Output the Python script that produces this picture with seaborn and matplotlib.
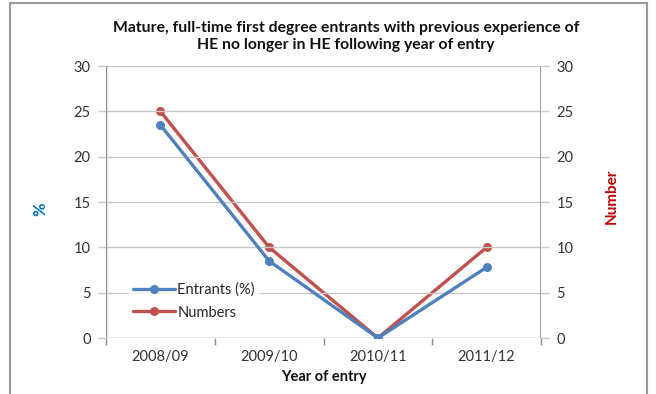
import matplotlib
matplotlib.use("Agg")
import matplotlib.pyplot as plt
import seaborn as sns
import pandas as pd
from matplotlib.patches import Rectangle

years = ["2008/09", "2009/10", "2010/11", "2011/12"]
entrants_pct = [23.5, 8.5, 0.0, 7.8]
numbers = [25, 10, 0, 10]
y_ticks = [0, 5, 10, 15, 20, 25, 30]

sns.set_theme(style="white")
plt.rcParams["font.family"] = ["Lato", "DejaVu Sans"]

blue = "#4F81BD"
red = "#C0504D"
grid = "#C8C8C8"
axis_grey = "#8C8C8C"

df = pd.DataFrame({"year": years, "pct": entrants_pct, "num": numbers})
df["x"] = range(len(years))
n = len(years)

fig = plt.figure(figsize=(6.56, 3.94), dpi=100)
ax = fig.add_axes([106 / 656, 56 / 394, 435 / 656, 272 / 394])
ax2 = ax.twinx()

sns.lineplot(data=df, x="x", y="pct", ax=ax, color=blue, marker="o",
             markersize=6.5, markeredgewidth=0, linewidth=2.4, label="Entrants (%)",
             legend=False)
sns.lineplot(data=df, x="x", y="num", ax=ax2, color=red, marker="o",
             markersize=6.5, markeredgewidth=0, linewidth=2.4, label="Numbers",
             legend=False)

for a in (ax, ax2):
    a.set_ylim(0, 30)
    a.set_yticks(y_ticks)
    for s in a.spines.values():
        s.set_visible(False)
    a.tick_params(axis="y", length=6, width=1, color=grid, pad=5,
                  labelsize=10.5, labelcolor="#333333")
    a.set_ylabel("")
ax.set_xlim(-0.5, n - 0.5)

ax.set_zorder(ax2.get_zorder() + 1)
ax.patch.set_visible(False)

# horizontal gridlines and the two vertical value axes
for t in y_ticks[1:]:
    ax.axhline(t, color=grid, lw=1, zorder=0)
ax.axhline(0, color=axis_grey, lw=1, zorder=0)
ax.axvline(-0.5, color=axis_grey, lw=1, zorder=0)
ax.axvline(n - 0.5, color=axis_grey, lw=1.2, zorder=0)

# category labels centred, tick marks at category boundaries
ax.set_xticks(range(n))
ax.set_xticklabels(years)
ax.set_xticks([i - 0.5 for i in range(n + 1)], minor=True)
ax.tick_params(axis="x", which="major", length=0, labelsize=10.5,
               labelcolor="#333333", pad=9)
ax.tick_params(axis="x", which="minor", length=5, width=1, color=axis_grey,
               bottom=True)
ax2.tick_params(axis="x", which="both", length=0, labelbottom=False)

ax.set_xlabel("Year of entry", fontsize=10.5, fontweight="bold", color="#111111",
              labelpad=4)
fig.text(40 / 656, 1 - 209 / 394, "%", rotation=90, color="#0070C0",
         fontsize=12, fontweight="bold", ha="center", va="center")
fig.text(612 / 656, 1 - 196 / 394, "Number", rotation=90, color="#C00000",
         fontsize=11, fontweight="bold", ha="center", va="center")

fig.suptitle("Mature, full-time first degree entrants with previous experience of\n"
             "HE no longer in HE following year of entry",
             x=346 / 656, y=1 - 21 / 394, va="top", fontsize=11.3, fontweight="bold",
             color="#111111", linespacing=1.3)

h1, l1 = ax.get_legend_handles_labels()
h2, l2 = ax2.get_legend_handles_labels()
leg = ax.legend(h1 + h2, l1 + l2, loc="lower left", bbox_to_anchor=(0.035, 0.025),
                frameon=True, fontsize=10.5, handlelength=2.9, handletextpad=0.15,
                labelspacing=0.6, borderpad=0.3)
leg.get_frame().set_facecolor("white")
leg.get_frame().set_edgecolor("white")

fig.patches.append(Rectangle((10 / 656, -0.02), 637 / 656, 1 - 3 / 394 + 0.02,
                             transform=fig.transFigure, fill=False,
                             edgecolor="#9A9A9A", lw=1.5))

fig.savefig("out.png", dpi=100)
